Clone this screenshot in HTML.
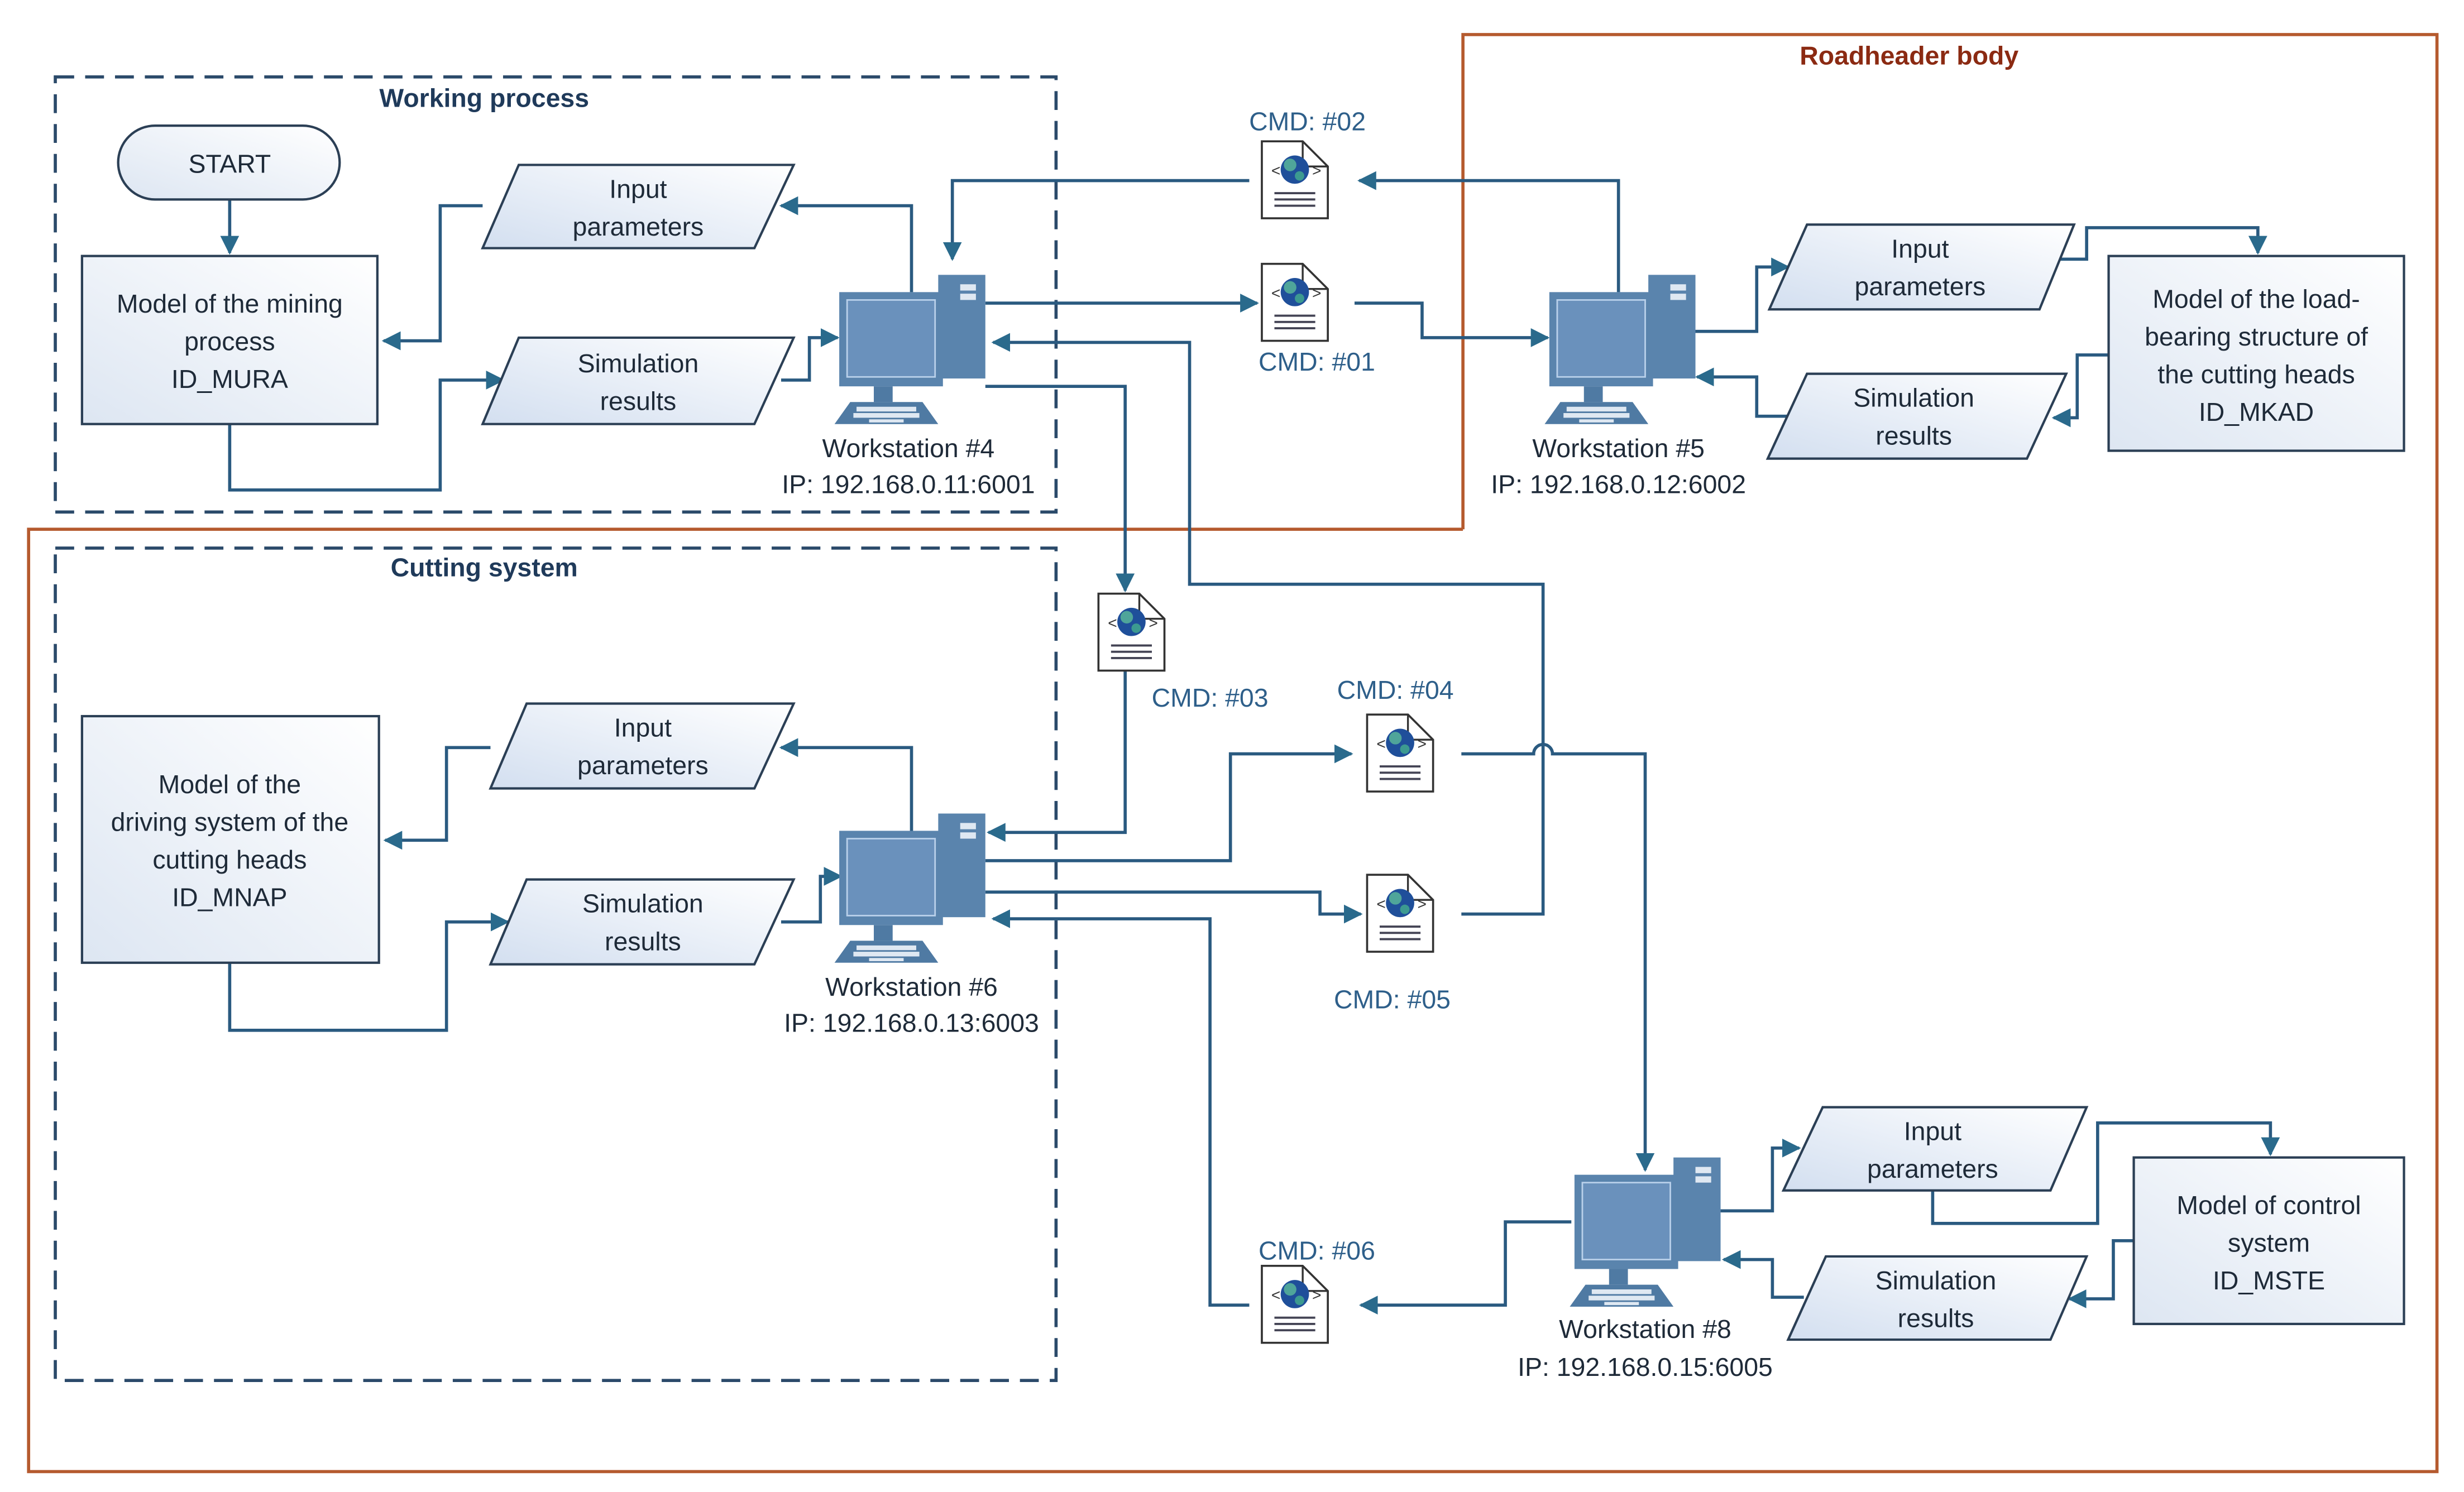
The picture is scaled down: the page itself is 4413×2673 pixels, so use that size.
<!DOCTYPE html>
<html><head><meta charset="utf-8"><style>html,body{margin:0;padding:0;background:#fff}svg{display:block}text{font-family:"Liberation Sans",sans-serif}</style></head><body>
<svg width="4413" height="2673" viewBox="0 0 1568 950" xmlns="http://www.w3.org/2000/svg">
<defs>
<marker id="a" viewBox="0 0 10 10" refX="9" refY="5" markerWidth="6" markerHeight="6" orient="auto"><path d="M0,0L10,5L0,10z" fill="#2a6a8c"/></marker>
<linearGradient id="pg" x1="1" y1="0" x2="0" y2="1"><stop offset="0" stop-color="#ffffff"/><stop offset="1" stop-color="#d3dff0"/></linearGradient>
<linearGradient id="rg" x1="1" y1="0" x2="0" y2="1"><stop offset="0" stop-color="#ffffff"/><stop offset="1" stop-color="#dde6f2"/></linearGradient>
<g id="pc">
<rect x="66" y="0" width="30" height="66" fill="#5a84ad"/>
<rect x="80" y="6" width="10" height="4" fill="#dfe8f2"/><rect x="80" y="12" width="10" height="4" fill="#dfe8f2"/>
<rect x="3" y="11" width="66" height="60" fill="#5a84ad"/>
<rect x="8" y="16" width="56" height="49" fill="#6a91bc" stroke="#b9d0ea" stroke-width="1"/>
<rect x="25" y="71" width="12" height="10" fill="#4f7aa3"/>
<path d="M10,81H56L66,95H0z" fill="#4f7aa3"/>
<g fill="#dfe8f2"><rect x="14" y="84" width="38" height="3"/><rect x="12" y="88" width="42" height="3"/><rect x="22" y="92" width="22" height="2"/></g>
</g>
<g id="doc">
<path d="M0,0H26L42,16V49H0z" fill="#fff" stroke="#333" stroke-width="1.3"/>
<path d="M26,0V16H42" fill="none" stroke="#333" stroke-width="1.2"/>
<circle cx="21" cy="18" r="9" fill="#1f4f9a"/><circle cx="18" cy="15" r="4" fill="#4fa59a"/><circle cx="24" cy="22" r="3" fill="#3c9a90"/>
<text x="6" y="22" font-size="10" fill="#333">&lt;</text><text x="32" y="22" font-size="10" fill="#333">&gt;</text>
<g stroke="#445" stroke-width="1.4"><line x1="8" y1="33" x2="34" y2="33"/><line x1="8" y1="37" x2="34" y2="37"/><line x1="8" y1="41" x2="34" y2="41"/></g>
</g>
</defs>

<path d="M931,337V22H1551V937H18V337H931" fill="none" stroke="#b55a2e" stroke-width="2"/>
<text x="1215" y="41" font-size="16.5" font-weight="bold" fill="#8b2a12" text-anchor="middle">Roadheader body</text>
<rect x="35" y="49" width="637" height="277" fill="none" stroke="#2b4a6a" stroke-width="2" stroke-dasharray="12,7"/>
<text x="308" y="68" font-size="16.5" font-weight="bold" fill="#1f3a5a" text-anchor="middle">Working process</text>
<rect x="35" y="349" width="637" height="530" fill="none" stroke="#2b4a6a" stroke-width="2" stroke-dasharray="12,7"/>
<text x="308" y="367" font-size="16.5" font-weight="bold" fill="#1f3a5a" text-anchor="middle">Cutting system</text>

<g fill="none" stroke="#2a5a80" stroke-width="2" marker-end="url(#a)">
<path d="M146,127V161"/>
<path d="M146,270V312H280V242H320"/>
<path d="M307,131H280V217H244"/>
<path d="M580,186V131H497"/>
<path d="M497,242H515V215H533"/>
<path d="M1030,186V115H865"/>
<path d="M795,115H606V165"/>
<path d="M627,193H800"/>
<path d="M862,193H905V215H985"/>
<path d="M1078,211H1118V170H1138"/>
<path d="M1310,165H1328V145H1437V161"/>
<path d="M1342,226H1322V266H1307"/>
<path d="M1138,265H1118V240H1080"/>
<path d="M627,246H716V376"/>
<path d="M716,425V530H629"/>
<path d="M930,582H982V372H757V218H632"/>
<path d="M627,548H783V480H860"/>
<path d="M930,480H976A6,6 0 0 1 988,480H1047V745"/>
<path d="M627,568H840V582H866"/>
<path d="M1000,778H958V831H866"/>
<path d="M795,831H770V585H632"/>
<path d="M580,530V476H497"/>
<path d="M312,476H284V535H245"/>
<path d="M146,613V656H284V587H323"/>
<path d="M497,587H522V558H535"/>
<path d="M1095,771H1128V731H1145"/>
<path d="M1230,758V779H1335V715H1445V735"/>
<path d="M1358,790H1345V827H1317"/>
<path d="M1148,826H1128V802H1097"/>
</g>

<g stroke="#2b3f55" stroke-width="1.5" fill="url(#rg)">
<rect x="75" y="80" width="141" height="47" rx="23.5"/>
<rect x="52" y="163" width="188" height="107"/>
<rect x="52" y="456" width="189" height="157"/>
<rect x="1342" y="163" width="188" height="124"/>
<rect x="1358" y="737" width="172" height="106"/>
</g>
<g stroke="#2b3f55" stroke-width="1.5" fill="url(#pg)">
<path d="M330,105H505L480,158H307z"/>
<path d="M330,215H505L480,270H307z"/>
<path d="M1150,143H1320L1298,197H1126z"/>
<path d="M1150,238H1315L1290,292H1125z"/>
<path d="M335,448H505L480,502H312z"/>
<path d="M335,560H505L480,614H312z"/>
<path d="M1160,705H1328L1305,758H1135z"/>
<path d="M1162,800H1328L1305,853H1138z"/>
</g>

<g font-size="16.5" fill="#1e2a38" text-anchor="middle">
<text x="146" y="110">START</text>
<text x="146" y="199">Model of the mining</text><text x="146" y="223">process</text><text x="146" y="247">ID_MURA</text>
<text x="146" y="505">Model of the</text><text x="146" y="529">driving system of the</text><text x="146" y="553">cutting heads</text><text x="146" y="577">ID_MNAP</text>
<text x="1436" y="196">Model of the load-</text><text x="1436" y="220">bearing structure of</text><text x="1436" y="244">the cutting heads</text><text x="1436" y="268">ID_MKAD</text>
<text x="1444" y="773">Model of control</text><text x="1444" y="797">system</text><text x="1444" y="821">ID_MSTE</text>
<text x="406" y="126">Input</text><text x="406" y="150">parameters</text>
<text x="406" y="237">Simulation</text><text x="406" y="261">results</text>
<text x="1222" y="164">Input</text><text x="1222" y="188">parameters</text>
<text x="1218" y="259">Simulation</text><text x="1218" y="283">results</text>
<text x="409" y="469">Input</text><text x="409" y="493">parameters</text>
<text x="409" y="581">Simulation</text><text x="409" y="605">results</text>
<text x="1230" y="726">Input</text><text x="1230" y="750">parameters</text>
<text x="1232" y="821">Simulation</text><text x="1232" y="845">results</text>
<text x="578" y="291">Workstation #4</text><text x="578" y="314">IP: 192.168.0.11:6001</text>
<text x="1030" y="291">Workstation #5</text><text x="1030" y="314">IP: 192.168.0.12:6002</text>
<text x="580" y="634">Workstation #6</text><text x="580" y="657">IP: 192.168.0.13:6003</text>
<text x="1047" y="852">Workstation #8</text><text x="1047" y="876">IP: 192.168.0.15:6005</text>
</g>
<g font-size="16.5" fill="#2e5f8a" text-anchor="middle">
<text x="832" y="83">CMD: #02</text>
<text x="838" y="236">CMD: #01</text>
<text x="770" y="450">CMD: #03</text>
<text x="888" y="445">CMD: #04</text>
<text x="886" y="642">CMD: #05</text>
<text x="838" y="802">CMD: #06</text>
</g>

<use href="#pc" x="531" y="175"/>
<use href="#pc" x="983" y="175"/>
<use href="#pc" x="531" y="518"/>
<use href="#pc" x="999" y="737"/>
<use href="#doc" x="803" y="90"/>
<use href="#doc" x="803" y="168"/>
<use href="#doc" x="699" y="378"/>
<use href="#doc" x="870" y="455"/>
<use href="#doc" x="870" y="557"/>
<use href="#doc" x="803" y="806"/>
</svg>
</body></html>
